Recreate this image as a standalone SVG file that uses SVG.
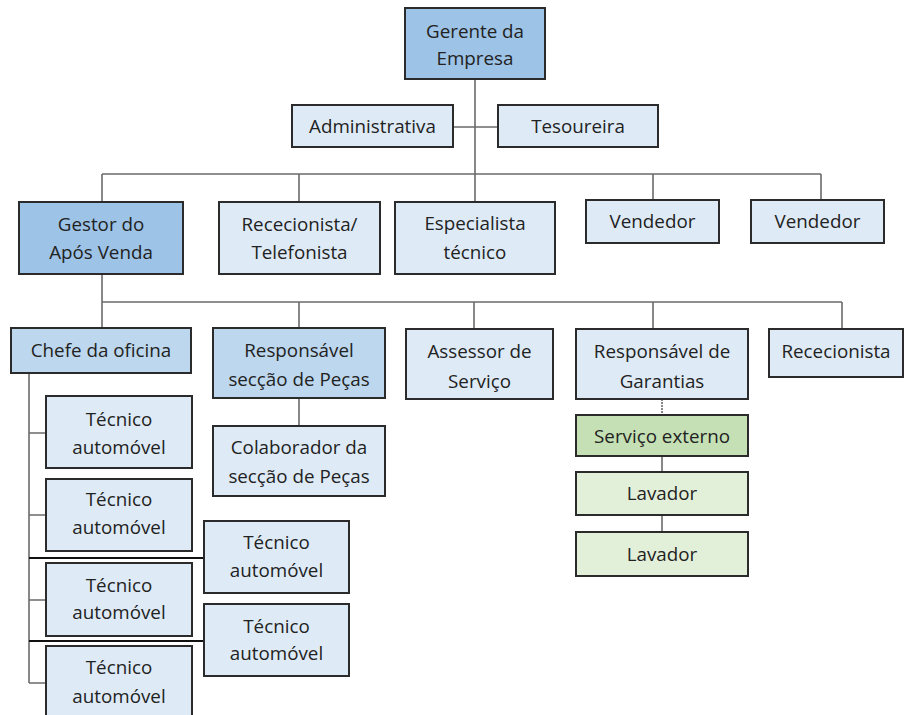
<svg xmlns="http://www.w3.org/2000/svg" width="907" height="715" viewBox="0 0 907 715">
<style>
.b{stroke:#2b2b2b;stroke-width:2}
.d{fill:#9dc3e6}
.m{fill:#bdd7ee}
.l{fill:#deebf7}
.g{fill:#c5e0b4}
.lg{fill:#e2f0d9}
text{font-family:"Open Sans","Noto Sans",sans-serif;font-size:18.8px;fill:#222;text-anchor:middle}
.c{stroke:#6b6b6b;stroke-width:1.6;fill:none}
.k{stroke:#111;stroke-width:2.2;fill:none}
</style>
<rect width="907" height="715" fill="#fff"/>
<g id="connectors">
<path class="c" d="M475 79V174M453 127H498"/>
<path class="c" d="M102 174H821M102 174V202M299 174V202M475 174V202M653 174V200M821 174V200"/>
<path class="c" d="M102 274V302M102 302H842M102 302V328M299 302V328M474 302V329M653 302V329M842 302V329"/>
<path class="c" d="M29 373V683M29 433H46M29 515H46M29 600H46M29 683H46"/>
<path class="k" d="M29 558H204M29 641H204"/>
<path class="c" d="M299 398V426"/>
<path class="c" d="M662 399V415" stroke-dasharray="2 1"/>
<path class="c" d="M662 456V472M662 515V532"/>
</g>
<g id="gerente"><rect class="b d" x="405" y="8" width="140" height="71"/><text x="475" y="38">Gerente da</text><text x="475" y="65">Empresa</text></g>
<g id="administrativa"><rect class="b l" x="292" y="105" width="161" height="42"/><text x="372.5" y="133">Administrativa</text></g>
<g id="tesoureira"><rect class="b l" x="498" y="105" width="160" height="42"/><text x="578" y="133">Tesoureira</text></g>
<g id="gestor"><rect class="b d" x="19" y="202" width="164" height="72"/><text x="101" y="231">Gestor do</text><text x="101" y="259">Após Venda</text></g>
<g id="rececionista-telefonista"><rect class="b l" x="219" y="202" width="161" height="72"/><text x="299.5" y="231">Rececionista/</text><text x="299.5" y="259">Telefonista</text></g>
<g id="especialista"><rect class="b l" x="395" y="202" width="160" height="72"/><text x="475" y="230">Especialista</text><text x="475" y="259">técnico</text></g>
<g id="vendedor1"><rect class="b l" x="586" y="200" width="133" height="43"/><text x="652.5" y="228">Vendedor</text></g>
<g id="vendedor2"><rect class="b l" x="751" y="200" width="133" height="43"/><text x="817.5" y="228">Vendedor</text></g>
<g id="chefe"><rect class="b m" x="11" y="328" width="180" height="45"/><text x="101" y="357">Chefe da oficina</text></g>
<g id="resp-pecas"><rect class="b m" x="213" y="328" width="172" height="70"/><text x="299" y="357">Responsável</text><text x="299" y="386">secção de Peças</text></g>
<g id="assessor"><rect class="b l" x="406" y="329" width="147" height="70"/><text x="479.5" y="358">Assessor de</text><text x="479.5" y="388">Serviço</text></g>
<g id="garantias"><rect class="b l" x="576" y="329" width="172" height="70"/><text x="662" y="358">Responsável de</text><text x="662" y="388">Garantias</text></g>
<g id="rececionista"><rect class="b l" x="769" y="329" width="134" height="48"/><text x="836" y="358">Rececionista</text></g>
<g id="servico-externo"><rect class="b g" x="576" y="415" width="172" height="41"/><text x="662" y="443">Serviço externo</text></g>
<g id="lavador1"><rect class="b lg" x="576" y="472" width="172" height="43"/><text x="662" y="500">Lavador</text></g>
<g id="lavador2"><rect class="b lg" x="576" y="532" width="172" height="44"/><text x="662" y="561">Lavador</text></g>
<g id="colaborador"><rect class="b l" x="213" y="426" width="172" height="70"/><text x="299" y="454">Colaborador da</text><text x="299" y="483">secção de Peças</text></g>
<g id="tecnico1"><rect class="b l" x="46" y="396" width="146" height="72"/><text x="119" y="426">Técnico</text><text x="119" y="454">automóvel</text></g>
<g id="tecnico2"><rect class="b l" x="46" y="479" width="146" height="72"/><text x="119" y="506">Técnico</text><text x="119" y="534">automóvel</text></g>
<g id="tecnico3"><rect class="b l" x="46" y="563" width="146" height="73"/><text x="119" y="592">Técnico</text><text x="119" y="619">automóvel</text></g>
<g id="tecnico4"><rect class="b l" x="46" y="646" width="146" height="74"/><text x="119" y="674">Técnico</text><text x="119" y="703">automóvel</text></g>
<g id="tecnico5"><rect class="b l" x="204" y="521" width="145" height="72"/><text x="276.5" y="549">Técnico</text><text x="276.5" y="577">automóvel</text></g>
<g id="tecnico6"><rect class="b l" x="204" y="604" width="145" height="72"/><text x="276.5" y="633">Técnico</text><text x="276.5" y="660">automóvel</text></g>
</svg>
